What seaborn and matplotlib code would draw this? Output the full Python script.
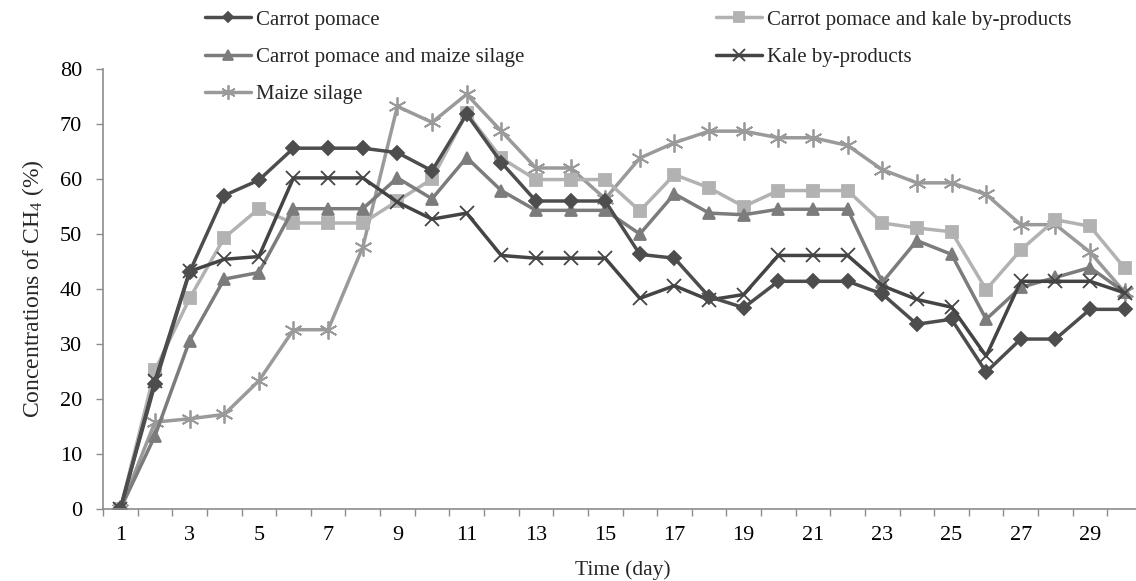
import matplotlib
matplotlib.use("Agg")
import matplotlib.pyplot as plt
from matplotlib.ticker import FixedLocator, NullFormatter
import seaborn as sns
import pandas as pd

days = list(range(1, 31))

carrot_pomace = [0, 22.7, 43.1, 57.0, 59.8, 65.6, 65.6, 65.6, 64.8, 61.5,
                 71.8, 63.0, 56.0, 56.0, 56.0, 46.3, 45.6, 38.6, 36.6, 41.4,
                 41.4, 41.4, 39.1, 33.6, 34.5, 24.9, 30.9, 30.9, 36.3, 36.3]
carrot_kale = [0, 25.2, 38.3, 49.3, 54.6, 52.0, 52.0, 52.0, 56.0, 60.0,
               72.0, 63.8, 59.9, 59.9, 59.9, 54.2, 60.8, 58.4, 55.0, 57.9,
               57.9, 57.9, 52.0, 51.1, 50.4, 39.9, 47.1, 52.6, 51.4, 43.8]
carrot_maize = [0, 13.3, 30.6, 41.8, 43.0, 54.6, 54.6, 54.6, 60.2, 56.4,
                63.9, 57.9, 54.3, 54.3, 54.3, 50.0, 57.3, 53.8, 53.5, 54.5,
                54.5, 54.5, 41.2, 48.8, 46.3, 34.5, 40.3, 42.1, 43.9, 39.4]
kale = [0, 23.3, 43.2, 45.4, 45.9, 60.2, 60.2, 60.2, 55.8, 52.7,
        53.8, 46.1, 45.6, 45.6, 45.6, 38.3, 40.6, 38.0, 39.0, 46.1,
        46.1, 46.1, 40.6, 38.1, 36.7, 27.8, 41.4, 41.4, 41.4, 39.3]
maize = [0, 15.8, 16.4, 17.2, 23.3, 32.6, 32.6, 47.6, 73.2, 70.3,
         75.4, 68.7, 62.0, 62.0, 56.4, 63.8, 66.6, 68.7, 68.7, 67.5,
         67.5, 66.1, 61.7, 59.3, 59.3, 57.2, 51.7, 51.7, 46.7, 39.4]

series_names = ["Carrot pomace", "Carrot pomace and maize silage", "Maize silage",
                "Carrot pomace and kale by-products", "Kale by-products"]
series_values = [carrot_pomace, carrot_maize, maize, carrot_kale, kale]

x_tick_labels = [str(d) for d in range(1, 30, 2)]

styles = {
    "Carrot pomace": dict(color="#4d4d4d", marker="D", ms=7),
    "Carrot pomace and maize silage": dict(color="#7c7c7c", marker="^", ms=9),
    "Maize silage": dict(color="#9a9a9a", marker=(6, 2, 0), ms=13),
    "Carrot pomace and kale by-products": dict(color="#b2b2b2", marker="s", ms=9),
    "Kale by-products": dict(color="#444444", marker="x", ms=10),
}

sns.set_theme(style="white")
plt.rcParams["font.family"] = ["Liberation Serif", "DejaVu Serif"]
plt.rcParams["mathtext.fontset"] = "custom"
plt.rcParams["mathtext.rm"] = "Liberation Serif"
plt.rcParams["mathtext.it"] = "Liberation Serif:italic"

fig = plt.figure(figsize=(11.36, 5.81), dpi=100)
ax = fig.add_axes([103 / 1136, 1 - 509 / 581, (1142 - 103) / 1136, (509 - 69) / 581])

frames = []
for name, vals in zip(series_names, series_values):
    frames.append(pd.DataFrame({"day": days, "value": vals, "series": name}))
df = pd.concat(frames, ignore_index=True)

draw_order = ["Maize silage", "Carrot pomace and kale by-products",
              "Carrot pomace and maize silage", "Kale by-products", "Carrot pomace"]
handles = {}
for name in draw_order:
    st = styles[name]
    sub = df[df["series"] == name]
    sns.lineplot(data=sub, x="day", y="value", ax=ax, color=st["color"],
                 marker=st["marker"], markersize=st["ms"], linewidth=2.5,
                 markeredgecolor=st["color"], markerfacecolor=st["color"],
                 markeredgewidth=1.3, label=name, legend=False)
    handles[name] = ax.lines[-1]

ax.set_xlim(0.5, 30.5)
ax.set_ylim(0, 80)
ax.set_yticks(range(0, 81, 10))
ax.set_xticks(range(1, 30, 2))
ax.set_xticklabels(x_tick_labels)
ax.xaxis.set_minor_locator(FixedLocator([d + 0.5 for d in range(0, 31)]))
ax.xaxis.set_minor_formatter(NullFormatter())
ax.tick_params(axis="x", which="major", length=0, pad=12, labelsize=16, colors="black")
ax.tick_params(axis="x", which="minor", length=5, width=1, color="#8c8c8c", direction="out", bottom=True)
ax.tick_params(axis="y", which="major", length=5, width=1, color="#8c8c8c", direction="out",
               left=True, labelsize=16, labelcolor="black", pad=10)

for side in ["top", "right"]:
    ax.spines[side].set_visible(False)
for side in ["left", "bottom"]:
    ax.spines[side].set_color("#8c8c8c")
    ax.spines[side].set_linewidth(1.2)

ax.set_xlabel("Time (day)", fontsize=15.5, labelpad=11)
ax.set_ylabel(r"Concentrations of CH$_\mathregular{4}$ (%)", fontsize=17, labelpad=10)

leg = fig.legend([handles[n] for n in series_names], series_names,
                 loc="upper left", bbox_to_anchor=(205 / 1136, 1 - 10 / 581),
                 ncol=2, frameon=False, fontsize=15, handlelength=2.2,
                 handletextpad=0.25, columnspacing=9.2, labelspacing=0.85,
                 borderaxespad=0, borderpad=0)
for h in leg.legend_handles:
    h.set_markersize(h.get_markersize() * 0.8)

fig.savefig("out.png", dpi=100)
